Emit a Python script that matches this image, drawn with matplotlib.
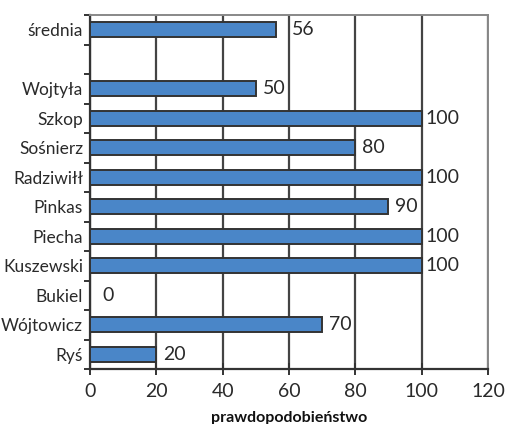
import matplotlib
matplotlib.use("Agg")
import matplotlib.pyplot as plt
from matplotlib.ticker import FixedLocator, NullFormatter

# Categories listed top to bottom ("" is an empty spacer row)
names = ["średnia", "", "Wojtyła", "Szkop", "Sośnierz", "Radziwiłł", "Pinkas",
         "Piecha", "Kuszewski", "Bukiel", "Wójtowicz", "Ryś"]
values = [56, None, 50, 100, 80, 100, 90, 100, 100, 0, 70, 20]
x_ticks = [0, 20, 40, 60, 80, 100, 120]
x_label = "prawdopodobieństwo"

plt.rcParams["font.family"] = ["Lato", "DejaVu Sans"]

fig = plt.figure(figsize=(5.10, 4.24), dpi=100)
ax = fig.add_axes([90 / 510, 1 - 369 / 424, (488 - 90) / 510, (369 - 15) / 424])

n = len(names)
ypos = list(range(n))
bar_color = "#4a86c8"
edge = "#333333"

# horizontal gap (points) between a bar's end and its value label
label_gap = {56: 12, 0: 9, 100: 2.5}

for y, v in zip(ypos, values):
    if v is None:
        continue
    if v > 0:
        ax.barh(y, v, height=0.52, color=bar_color, edgecolor=edge,
                linewidth=1.4, zorder=3)
    ax.annotate(f"{v}", xy=(v, y), xytext=(label_gap.get(v, 5), 0),
                textcoords="offset points", va="center", ha="left",
                fontsize=14, color="#2a2a2a", zorder=4)

ax.set_xlim(0, 120)
ax.set_ylim(n - 0.5, -0.5)

ax.set_xticks(x_ticks)
ax.set_xticklabels([str(t) for t in x_ticks], fontsize=14, color="#2a2a2a")
ax.tick_params(axis="x", direction="inout", length=8, width=1.4, color="#333333", pad=6)

ax.set_yticks(ypos)
ax.set_yticklabels(names, fontsize=12.5, color="#2a2a2a")
ax.tick_params(axis="y", which="major", length=0, pad=5)
ax.yaxis.set_minor_locator(FixedLocator([i - 0.5 for i in range(n + 1)]))
ax.yaxis.set_minor_formatter(NullFormatter())
ax.tick_params(axis="y", which="minor", direction="out", length=4, width=1.4, color="#333333")

ax.grid(axis="x", color="#444444", linewidth=1.6, zorder=1)
ax.set_axisbelow(True)

for side in ("left", "bottom"):
    ax.spines[side].set_color("#333333")
    ax.spines[side].set_linewidth(1.6)
for side in ("top", "right"):
    ax.spines[side].set_color("#888888")
    ax.spines[side].set_linewidth(1.4)

ax.set_xlabel(x_label, fontsize=11.5, fontweight="bold", color="#111111",
              va="baseline")
ax.xaxis.set_label_coords(0.5, -53 / 354)

fig.savefig("out.png", dpi=100)
